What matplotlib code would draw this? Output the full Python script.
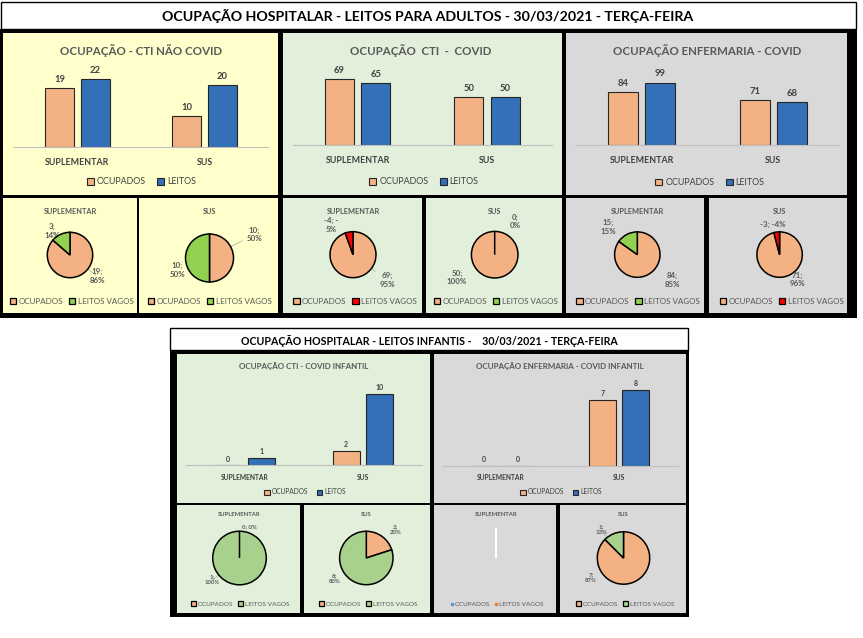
import numpy as np
import matplotlib
matplotlib.use("Agg")
import matplotlib.pyplot as plt
from matplotlib.patches import Rectangle, Patch
from matplotlib.lines import Line2D

plt.rcParams['font.family'] = ['Lato', 'DejaVu Sans']

W, H = 863, 638
DPI = 100

# ---------------- data ----------------
CATEGORIAS = ['SUPLEMENTAR', 'SUS']
SERIES_BARRAS = ['OCUPADOS', 'LEITOS']
SERIES_PIZZA = ['OCUPADOS', 'LEITOS VAGOS']

cti_nao_covid_ocupados = [19, 10]
cti_nao_covid_leitos = [22, 20]
cti_covid_ocupados = [69, 50]
cti_covid_leitos = [65, 50]
enf_covid_ocupados = [84, 71]
enf_covid_leitos = [99, 68]
cti_inf_ocupados = [0, 2]
cti_inf_leitos = [1, 10]
enf_inf_ocupados = [0, 7]
enf_inf_leitos = [0, 8]

# percentuais exibidos nas pizzas: [ocupados, vagos] por categoria
pct_cti_nao_covid = [[86, 14], [50, 50]]
pct_cti_covid = [[95, -5], [100, 0]]
pct_enf_covid = [[85, 15], [96, -4]]
pct_cti_inf = [[0, 100], [20, 80]]
pct_enf_inf = [[0, 0], [87, 13]]

TITULO_ADULTOS = 'OCUPAÇÃO HOSPITALAR - LEITOS PARA ADULTOS - 30/03/2021 - TERÇA-FEIRA'
TITULO_INFANTIS = 'OCUPAÇÃO HOSPITALAR - LEITOS INFANTIS -    30/03/2021 - TERÇA-FEIRA'

# ---------------- style ----------------
ORANGE = '#F4B183'
BLUE = '#3470B8'
LIME = '#92D050'
LGREEN = '#A9D18E'
RED = '#FF0000'
YELLOW_BG = '#FFFFCC'
GREEN_BG = '#E2EFDA'
GRAY_BG = '#D9D9D9'
TITLE_C = '#595959'
VAL_C = '#404040'
BW = 0.225
OFF = 0.141

fig = plt.figure(figsize=(W / DPI, H / DPI), dpi=DPI)
bg = fig.add_axes([0, 0, 1, 1])
bg.set_xlim(0, W)
bg.set_ylim(H, 0)
bg.axis('off')


def rect(x0, y0, x1, y1, fc, ec='none', lw=0):
    bg.add_patch(Rectangle((x0, y0), x1 - x0, y1 - y0, facecolor=fc,
                           edgecolor=ec, linewidth=lw))


def px_axes(x0, y0, x1, y1):
    ax = fig.add_axes([x0 / W, 1 - y1 / H, (x1 - x0) / W, (y1 - y0) / H])
    ax.set_facecolor('none')
    return ax


# ---------------- frames / backgrounds ----------------
rect(0, 29, 857, 318, 'black')
rect(1, 2, 856, 29, 'white', 'black', 1.0)
bg.text(428, 16, TITULO_ADULTOS, ha='center', va='center', fontsize=10.2,
        fontweight='bold', color='black')

rect(3, 33, 278, 195, YELLOW_BG)
rect(283, 33, 562, 195, GREEN_BG)
rect(566, 33, 847, 195, GRAY_BG)
rect(3, 198, 137, 313, YELLOW_BG)
rect(139, 198, 278, 313, YELLOW_BG)
rect(283, 198, 422, 313, GREEN_BG)
rect(426, 198, 562, 313, GREEN_BG)
rect(566, 198, 704, 313, GRAY_BG)
rect(709, 198, 847, 313, GRAY_BG)

rect(170, 350, 689, 617, 'black')
rect(170, 328, 688, 350, 'white', 'black', 1.0)
bg.text(429, 341, TITULO_INFANTIS, ha='center', va='center', fontsize=7.7,
        fontweight='bold', color='black')
rect(177, 354, 430, 503, GREEN_BG)
rect(434, 354, 686, 503, GRAY_BG)
rect(177, 505, 300, 613, GREEN_BG)
rect(304, 505, 430, 613, GREEN_BG)
rect(434, 505, 556, 613, GRAY_BG)
rect(560, 505, 686, 613, GRAY_BG)


# ---------------- bar charts ----------------
def bar_chart(x0, x1, ytop, ybase, ymax, ocup, leitos, title, title_xy,
              title_fs, val_fs, val_pad, cat_fs, cat_pad, leg_xy, leg_fs):
    ax = px_axes(x0, ytop, x1, ybase)
    x = np.arange(len(CATEGORIAS))
    b1 = ax.bar(x - OFF, ocup, BW, color=ORANGE, edgecolor='#262626',
                linewidth=0.8, label=SERIES_BARRAS[0])
    b2 = ax.bar(x + OFF, leitos, BW, color=BLUE, edgecolor='#262626',
                linewidth=0.8, label=SERIES_BARRAS[1])
    ax.set_xlim(-0.5, 1.5)
    ax.set_ylim(0, ymax)
    for b in (b1, b2):
        ax.bar_label(b, padding=val_pad, fontsize=val_fs, fontweight='bold',
                     color=VAL_C)
    for s in ('top', 'right', 'left'):
        ax.spines[s].set_visible(False)
    ax.spines['bottom'].set_color('#BFBFBF')
    ax.spines['bottom'].set_linewidth(0.8)
    ax.set_yticks([])
    ax.set_xticks(x, CATEGORIAS)
    ax.tick_params(axis='x', length=0, pad=cat_pad, labelsize=cat_fs,
                   labelcolor=VAL_C)
    for t in ax.get_xticklabels():
        t.set_fontweight('bold')
    bg.text(title_xy[0], title_xy[1], title, ha='center', va='center',
            fontsize=title_fs, fontweight='bold', color=TITLE_C)
    ax.legend(loc='center', bbox_to_anchor=leg_xy, bbox_transform=bg.transData,
              ncol=2, frameon=False, fontsize=leg_fs, handlelength=0.8,
              handleheight=0.8, handletextpad=0.3, columnspacing=1.3,
              borderpad=0, labelcolor=VAL_C)
    return ax


bar_chart(14, 268, 69.4, 146.7, 25, cti_nao_covid_ocupados, cti_nao_covid_leitos,
          'OCUPAÇÃO - CTI NÃO COVID', (141, 50.7), 8.3, 6.8, 3, 6.4, 8,
          (141.5, 181.7), 6.4)
bar_chart(293, 551.5, 69, 144.5, 80, cti_covid_ocupados, cti_covid_leitos,
          'OCUPAÇÃO  CTI  -  COVID', (421, 50.7), 8.3, 6.8, 3, 6.4, 8,
          (424, 181.7), 6.4)
bar_chart(576, 839, 69.3, 145.3, 120, enf_covid_ocupados, enf_covid_leitos,
          'OCUPAÇÃO ENFERMARIA - COVID', (707, 50.3), 8.3, 6.8, 3, 6.4, 8,
          (710, 182.5), 6.4)
bar_chart(185.5, 422, 379.6, 465.4, 12, cti_inf_ocupados, cti_inf_leitos,
          'OCUPAÇÃO CTI - COVID INFANTIL', (303.7, 366), 5.8, 5.0, 2, 4.8, 6,
          (305, 492), 4.8)
bar_chart(442, 678, 380.5, 466, 9, enf_inf_ocupados, enf_inf_leitos,
          'OCUPAÇÃO ENFERMARIA - COVID INFANTIL', (560, 366), 5.8, 5.0, 2, 4.8, 6,
          (561, 492), 4.8)


# ---------------- pie charts ----------------
def pie_chart(cx, cy, r, ocup, leitos, pcts, colors, title, title_y, title_fs,
              lab_pos, lab_fmt, leaders, lab_fs, leg_xy, leg_fs, empty=False,
              leg_colors=None):
    vals = [ocup, leitos - ocup]
    m = 1.06
    ax = px_axes(cx - r * m, cy - r * m, cx + r * m, cy + r * m)
    if not empty:
        wedges, _ = ax.pie(np.abs(vals), colors=colors, startangle=90,
                           counterclock=False,
                           wedgeprops=dict(edgecolor='black', linewidth=1.1))
        for w, v in zip(wedges, vals):
            if v == 0:
                w.set_zorder(5)
        for i, (lx, ly) in enumerate(lab_pos):
            txt = lab_fmt[i].format(v=vals[i], p=pcts[i], a=abs(pcts[i]))
            if leaders[i]:
                d = np.array([lx - cx, ly - cy], float)
                d /= np.hypot(*d)
                bg.annotate(txt, xy=(cx + r * d[0], cy + r * d[1]),
                            xytext=(lx, ly), ha='center', va='center',
                            fontsize=lab_fs, fontweight='bold', color=TITLE_C,
                            arrowprops=dict(arrowstyle='-', color='#A6A6A6',
                                            lw=0.5, shrinkA=1, shrinkB=0))
            else:
                bg.text(lx, ly, txt, ha='center', va='center', fontsize=lab_fs,
                        fontweight='bold', color=TITLE_C)
    else:
        ax.vlines(0, 0, 1, color='white', lw=1.5)
    ax.set_xlim(-m, m)
    ax.set_ylim(-m, m)
    ax.axis('off')
    bg.text(cx, title_y, title, ha='center', va='center', fontsize=title_fs,
            fontweight='bold', color=TITLE_C)
    if empty:
        handles = [Line2D([], [], ls='none', marker='s', markersize=2,
                          color=c) for c in leg_colors]
        hl = 0.4
    else:
        handles = [Patch(facecolor=c, edgecolor='black', linewidth=0.9)
                   for c in colors]
        hl = 0.8
    ax.legend(handles, SERIES_PIZZA, loc='center', bbox_to_anchor=leg_xy,
              bbox_transform=bg.transData, ncol=2, frameon=False,
              fontsize=leg_fs, handlelength=hl, handleheight=0.8,
              handletextpad=0.3, columnspacing=0.7, borderpad=0,
              labelcolor=TITLE_C)


F2 = '{v};\n{p}%'
F1 = '{v}; {p}%'
FNEG = '{v}; -\n{a}%'
# upper (adults)
pie_chart(70, 255, 22.7, cti_nao_covid_ocupados[0], cti_nao_covid_leitos[0],
          pct_cti_nao_covid[0], [ORANGE, LIME], 'SUPLEMENTAR', 211, 5.3,
          [(97, 276), (52, 231)], [F2, F2], [True, True], 5.7, (71.7, 301.7), 5.8)
pie_chart(209.5, 258, 24, cti_nao_covid_ocupados[1], cti_nao_covid_leitos[1],
          pct_cti_nao_covid[1], [ORANGE, LIME], 'SUS', 211, 5.3,
          [(254, 234.5), (177.5, 270)], [F2, F2], [True, False], 5.7,
          (209.7, 301.7), 5.8)
pie_chart(353, 254.7, 23, cti_covid_ocupados[0], cti_covid_leitos[0],
          pct_cti_covid[0], [ORANGE, RED], 'SUPLEMENTAR', 211, 5.3,
          [(387, 280), (331, 225)], [F2, FNEG], [True, True], 5.7,
          (355, 301.7), 5.8)
pie_chart(494.7, 254.7, 23.3, cti_covid_ocupados[1], cti_covid_leitos[1],
          pct_cti_covid[1], [ORANGE, LIME], 'SUS', 211, 5.3,
          [(457, 277.5), (515, 221.7)], [F2, F2], [False, True], 5.7,
          (495.6, 301.7), 5.8)
pie_chart(637.3, 254.6, 22.7, enf_covid_ocupados[0], enf_covid_leitos[0],
          pct_enf_covid[0], [ORANGE, LIME], 'SUPLEMENTAR', 211, 5.3,
          [(672, 280), (608, 227)], [F2, F2], [False, False], 5.7,
          (638, 301.7), 5.8)
pie_chart(779.6, 254.6, 22.7, enf_covid_ocupados[1], enf_covid_leitos[1],
          pct_enf_covid[1], [ORANGE, RED], 'SUS', 211, 5.3,
          [(797, 279.5), (772.6, 224)], [F2, F1], [False, False], 5.7,
          (781.6, 301.7), 5.8)
# lower (infants)
pie_chart(239.5, 558, 26.8, cti_inf_ocupados[0], cti_inf_leitos[0],
          pct_cti_inf[0], [ORANGE, LGREEN], 'SUPLEMENTAR', 514.8, 4.2,
          [(249.6, 526.2), (212.5, 580)], [F1, F2], [False, True], 4.3,
          (240, 604), 4.6)
pie_chart(366.3, 558, 26.7, cti_inf_ocupados[1], cti_inf_leitos[1],
          pct_cti_inf[1], [ORANGE, LGREEN], 'SUS', 514.8, 4.2,
          [(395.7, 529.7), (334.6, 578.7)], [F2, F2], [False, True], 4.3,
          (368, 604), 4.6)
pie_chart(495.8, 558, 30.5, enf_inf_ocupados[0], enf_inf_leitos[0],
          pct_enf_inf[0], [ORANGE, LGREEN], 'SUPLEMENTAR', 514.8, 4.2,
          [], [], [], 4.3, (497, 604), 4.6, empty=True,
          leg_colors=['#5B9BD5', '#ED7D31'])
pie_chart(623.5, 558, 26.2, enf_inf_ocupados[1], enf_inf_leitos[1],
          pct_enf_inf[1], [ORANGE, LGREEN], 'SUS', 514.8, 4.2,
          [(591, 577.5), (601, 529.7)], [F2, F2], [False, True], 4.3,
          (625, 604), 4.6)

fig.savefig('out.png', dpi=DPI)
